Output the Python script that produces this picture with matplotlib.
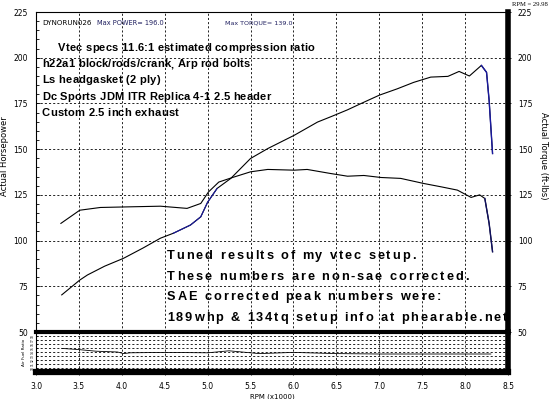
import matplotlib
matplotlib.use("Agg")
import matplotlib.pyplot as plt
from matplotlib.ticker import MultipleLocator
from matplotlib.font_manager import FontProperties

# Dyno data (rpm in x1000)
hp_rpm = [3.30, 3.51, 3.60, 3.80, 4.02, 4.25, 4.45, 4.60, 4.80, 4.92, 5.00, 5.11,
          5.27, 5.50, 5.70, 6.01, 6.28, 6.45, 6.63, 6.79, 7.00, 7.21, 7.40, 7.60,
          7.80, 7.93, 8.05, 8.19, 8.25, 8.28, 8.32]
hp_vals = [70.3, 78.4, 81.2, 86.0, 90.3, 96.0, 101.3, 104.0, 108.5, 113.0, 121.0, 128.5,
           134.0, 144.9, 150.3, 157.6, 164.8, 168.0, 171.5, 175.0, 179.5, 183.0, 186.5, 189.4,
           189.8, 192.5, 190.0, 195.8, 192.0, 176.7, 147.6]

tq_rpm = [3.29, 3.40, 3.51, 3.75, 4.14, 4.45, 4.76, 4.92, 5.01, 5.13, 5.29, 5.50,
          5.70, 6.01, 6.16, 6.43, 6.63, 6.82, 7.02, 7.25, 7.52, 7.72, 7.91, 8.07,
          8.17, 8.23, 8.28, 8.32]
tq_vals = [109.4, 113.0, 116.6, 118.1, 118.5, 118.8, 117.6, 120.3, 126.6, 132.0, 134.5, 137.6,
           138.9, 138.5, 138.9, 136.7, 135.2, 135.6, 134.5, 134.0, 131.2, 129.4, 127.6, 123.6,
           125.0, 123.0, 109.4, 93.9]

afr_rpm = [3.30, 3.50, 3.70, 3.95, 4.02, 4.10, 4.50, 5.00, 5.25, 5.40, 5.60, 6.00,
           6.50, 7.00, 7.50, 8.00, 8.30]
afr_vals = [14.9, 14.6, 14.2, 14.0, 13.6, 13.8, 13.9, 13.8, 14.3, 14.0, 13.6, 13.9,
            13.6, 13.5, 13.5, 13.5, 13.5]
afr_ticks = [10, 11, 12, 13, 14, 15, 16, 17, 18]

notes_top = ["Vtec specs 11.6:1 estimated compression ratio",
             "h22a1 block/rods/crank, Arp rod bolts",
             "Ls headgasket (2 ply)",
             "Dc Sports JDM ITR Replica 4-1 2.5 header",
             "Custom 2.5 inch exhaust"]
notes_bottom = ["Tuned results of my vtec setup.",
                "These numbers are non-sae corrected.",
                "SAE corrected peak numbers were:",
                "189whp & 134tq setup info at phearable.net"]

W, H = 550, 399
fig = plt.figure(figsize=(5.5, 3.99), dpi=100)
renderer = fig.canvas.get_renderer()
grid_kw = dict(color="black", linestyle=(0, (2.5, 2.5)), linewidth=0.6)


def spaced_text(x, y, s, size, spacing):
    # draws text char by char so the letters can be spread out (pixel coords, y from top)
    fp = FontProperties(family="Liberation Sans", weight="bold", size=size)
    for ch in s:
        fig.text(x / W, 1 - y / H, ch, fontproperties=fp, va="center", ha="left")
        w, _, _ = renderer.get_text_width_height_descent(ch, fp, ismath=False)
        x += w + spacing


# main dyno axes
ax = fig.add_axes([36 / W, 1 - 332 / H, (508 - 36) / W, (332 - 12) / H])
ax.set_xlim(3.0, 8.5)
ax.set_ylim(50, 225)
ax.yaxis.set_major_locator(MultipleLocator(25))
ax.yaxis.set_minor_locator(MultipleLocator(5))
ax.xaxis.set_major_locator(MultipleLocator(0.5))
ax.grid(True, which="major", **grid_kw)
ax.tick_params(axis="y", labelsize=5.5, length=3, width=0.6, direction="in", pad=6)
ax.tick_params(axis="y", which="minor", length=2, width=0.6, direction="in")
ax.tick_params(axis="x", bottom=False, labelbottom=False)
for s in ["left", "top", "bottom"]:
    ax.spines[s].set_linewidth(0.8)
ax.spines["right"].set_linewidth(4)
ax.set_ylabel("Actual Horsepower", fontsize=6)
ax.yaxis.set_label_coords(-0.058, 0.55)

ax.plot(hp_rpm, hp_vals, color="black", lw=0.8)
ax.plot(tq_rpm, tq_vals, color="black", lw=0.8)
# blue overlap sections from the second pass
ax.plot(hp_rpm[7:12], hp_vals[7:12], color="#1a1aa0", lw=0.8)
ax.plot(hp_rpm[-4:], hp_vals[-4:], color="#1a1aa0", lw=1.0)
ax.plot(tq_rpm[-3:], tq_vals[-3:], color="#101060", lw=1.0)

# right torque axis
axr = ax.twinx()
axr.set_ylim(50, 225)
axr.yaxis.set_major_locator(MultipleLocator(25))
axr.tick_params(axis="y", labelsize=5.5, length=2, width=0.6, pad=5)
axr.set_ylabel("Actual Torque (ft-lbs)", fontsize=6, rotation=-90)
axr.yaxis.set_label_coords(1.085, 0.55)
for s in axr.spines.values():
    s.set_visible(False)

# text annotations
for i, t in enumerate(notes_top):
    x = 58 if i == 0 else 42
    spaced_text(x, 48 + 16.2 * i, t, 8, 0.2)
for i, t in enumerate(notes_bottom):
    spaced_text(167, 256 + 20.6 * i, t, 9.2, 1.9)

fig.text(42 / W, 1 - 23 / H, "DYNORUN026", fontsize=5.1, va="center")
fig.text(97 / W, 1 - 23 / H, "Max POWER= 196.0", fontsize=4.8, va="center", color="#202060")
fig.text(225 / W, 1 - 23 / H, "Max TORQUE= 139.0", fontsize=4.6, va="center", color="#202060")
fig.text(548 / W, 1 - 4 / H, "RPM = 29.98", fontsize=4.8, va="center", ha="right",
         family="Liberation Serif")

# air fuel ratio strip
axa = fig.add_axes([36 / W, 1 - 372 / H, (508 - 36) / W, (372 - 332) / H])
axa.set_xlim(3.0, 8.5)
axa.set_ylim(9, 19)
axa.grid(True, **grid_kw)
axa.plot(afr_rpm, afr_vals, color="black", lw=0.6)
axa.spines["top"].set_linewidth(3)
axa.spines["bottom"].set_linewidth(4.5)
axa.spines["right"].set_linewidth(4)
axa.spines["left"].set_linewidth(0.8)
axa.set_yticks(afr_ticks)
axa.set_yticklabels([str(v) for v in afr_ticks], fontsize=2.2, rotation=90, va="center")
axa.tick_params(axis="y", length=1.5, width=0.5, pad=1, direction="in")
axa.tick_params(axis="x", labelsize=5.5, length=2, width=0.6, pad=5)
axa.set_xticks([3.0, 3.5, 4.0, 4.5, 5.0, 5.5, 6.0, 6.5, 7.0, 7.5, 8.0, 8.5])
axa.set_xticklabels(["3.0", "3.5", "4.0", "4.5", "5.0", "5.5", "6.0", "6.5",
                     "7.0", "7.5", "8.0", "8.5"])
axa.set_xlabel("RPM (x1000)", fontsize=5, labelpad=2)
axa.set_ylabel("Air Fuel Ratio", fontsize=3, labelpad=3)

fig.savefig("out.png", dpi=100)
